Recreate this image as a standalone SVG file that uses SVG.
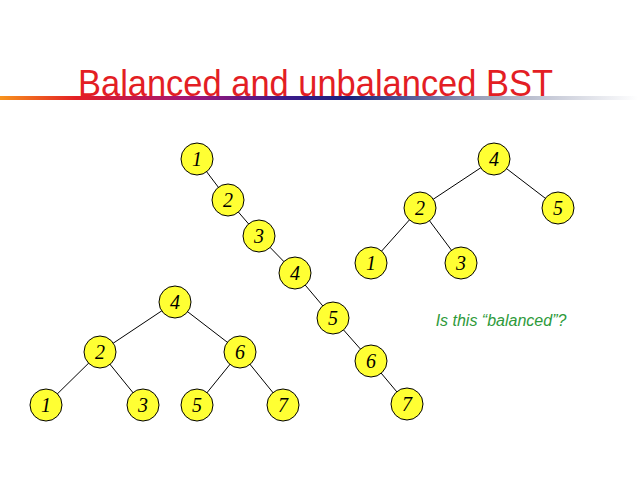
<svg xmlns="http://www.w3.org/2000/svg" width="638" height="479" viewBox="0 0 638 479">
<defs>
<linearGradient id="g" x1="0" x2="1" y1="0" y2="0">
<stop offset="0" stop-color="#f7941d"/><stop offset="0.12" stop-color="#e31e24"/><stop offset="0.3" stop-color="#a0167a"/><stop offset="0.45" stop-color="#3a1a8a"/><stop offset="0.55" stop-color="#1a237e"/><stop offset="0.75" stop-color="#9aa0b8"/><stop offset="1" stop-color="#ffffff"/>
</linearGradient>
<style>
.n circle{fill:#ffff33;stroke:#000;stroke-width:1}
.n text{font-family:"Liberation Serif",serif;font-style:italic;font-size:20px;text-anchor:middle;dominant-baseline:central;fill:#000}
#edges line{stroke:#000;stroke-width:1}
</style>
</defs>
<rect width="638" height="479" fill="#fff"/>
<rect x="0" y="96" width="638" height="4" fill="url(#g)"/>
<text x="78" y="96" font-family="Liberation Sans,Arial,sans-serif" font-size="37" fill="#e31e24" textLength="475" lengthAdjust="spacingAndGlyphs">Balanced and unbalanced BST</text>
<g id="edges">
<line x1="197" y1="159" x2="228" y2="200"/><line x1="228" y1="200" x2="259" y2="236"/><line x1="259" y1="236" x2="295" y2="273"/><line x1="295" y1="273" x2="333" y2="318"/><line x1="333" y1="318" x2="371" y2="361"/><line x1="371" y1="361" x2="407" y2="404"/>
<line x1="494" y1="159" x2="420" y2="208"/><line x1="494" y1="159" x2="558" y2="208"/><line x1="420" y1="208" x2="371" y2="263"/><line x1="420" y1="208" x2="461" y2="263"/>
<line x1="175" y1="302" x2="100" y2="352"/><line x1="175" y1="302" x2="240" y2="352"/><line x1="100" y1="352" x2="46" y2="405"/><line x1="100" y1="352" x2="143" y2="405"/><line x1="240" y1="352" x2="197" y2="405"/><line x1="240" y1="352" x2="283" y2="405"/>
</g>
<g id="c1" class="n"><circle cx="197" cy="159" r="16"/><text x="197" y="159">1</text></g>
<g id="c2" class="n"><circle cx="228" cy="200" r="16"/><text x="228" y="200">2</text></g>
<g id="c3" class="n"><circle cx="259" cy="236" r="16"/><text x="259" y="236">3</text></g>
<g id="c4" class="n"><circle cx="295" cy="273" r="16"/><text x="295" y="273">4</text></g>
<g id="c5" class="n"><circle cx="333" cy="318" r="16"/><text x="333" y="318">5</text></g>
<g id="c6" class="n"><circle cx="371" cy="361" r="16"/><text x="371" y="361">6</text></g>
<g id="c7" class="n"><circle cx="407" cy="404" r="16"/><text x="407" y="404">7</text></g>
<g id="r4" class="n"><circle cx="494" cy="159" r="16"/><text x="494" y="159">4</text></g>
<g id="r2" class="n"><circle cx="420" cy="208" r="16"/><text x="420" y="208">2</text></g>
<g id="r5" class="n"><circle cx="558" cy="208" r="16"/><text x="558" y="208">5</text></g>
<g id="r1" class="n"><circle cx="371" cy="263" r="16"/><text x="371" y="263">1</text></g>
<g id="r3" class="n"><circle cx="461" cy="263" r="16"/><text x="461" y="263">3</text></g>
<g id="l4" class="n"><circle cx="175" cy="302" r="16"/><text x="175" y="302">4</text></g>
<g id="l2" class="n"><circle cx="100" cy="352" r="16"/><text x="100" y="352">2</text></g>
<g id="l6" class="n"><circle cx="240" cy="352" r="16"/><text x="240" y="352">6</text></g>
<g id="l1" class="n"><circle cx="46" cy="405" r="16"/><text x="46" y="405">1</text></g>
<g id="l3" class="n"><circle cx="143" cy="405" r="16"/><text x="143" y="405">3</text></g>
<g id="l5" class="n"><circle cx="197" cy="405" r="16"/><text x="197" y="405">5</text></g>
<g id="l7" class="n"><circle cx="283" cy="405" r="16"/><text x="283" y="405">7</text></g>
<text x="501" y="326" font-family="Liberation Sans,Arial,sans-serif" font-style="italic" font-size="16" fill="#2e9a3a" text-anchor="middle">Is this “balanced”?</text>
</svg>
